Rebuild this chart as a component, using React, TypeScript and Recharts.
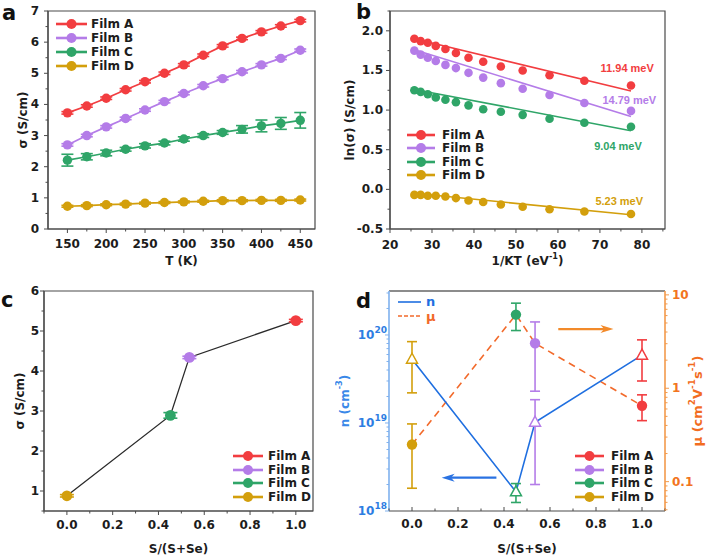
import React from "react";
import {
  ComposedChart,
  Line,
  Scatter,
  XAxis,
  YAxis,
  ErrorBar,
  ReferenceArea,
  ReferenceDot,
  ReferenceLine,
  Legend,
  Label,
} from "recharts";

const FONT = "'DejaVu Sans', 'Liberation Sans', sans-serif";
const INK = "#1c1c1c";
const AXIS = "#4a4a4a";

const films = ["Film A", "Film B", "Film C", "Film D"];
const filmColors = ["#f23d40", "#b47ce8", "#2fa568", "#d39f0c"];

// panel a: sigma vs T
const tempK = [150, 175, 200, 225, 250, 275, 300, 325, 350, 375, 400, 425, 450];
const sigmaA = [3.73, 3.95, 4.2, 4.47, 4.73, 5.0, 5.27, 5.58, 5.88, 6.12, 6.33, 6.52, 6.69];
const sigmaB = [2.7, 3.0, 3.28, 3.55, 3.82, 4.09, 4.35, 4.6, 4.83, 5.05, 5.27, 5.48, 5.74];
const sigmaC = [2.21, 2.32, 2.44, 2.56, 2.67, 2.76, 2.89, 3.0, 3.1, 3.2, 3.31, 3.39, 3.49];
const sigmaD = [0.73, 0.75, 0.78, 0.8, 0.83, 0.85, 0.87, 0.89, 0.91, 0.91, 0.92, 0.92, 0.93];
const sigmaErrA = [0.04, 0.04, 0.04, 0.04, 0.04, 0.04, 0.04, 0.04, 0.04, 0.04, 0.04, 0.04, 0.04];
const sigmaErrB = [0.04, 0.04, 0.04, 0.04, 0.04, 0.04, 0.04, 0.04, 0.04, 0.04, 0.04, 0.04, 0.04];
const sigmaErrC = [0.19, 0.1, 0.09, 0.06, 0.07, 0.06, 0.07, 0.06, 0.06, 0.12, 0.19, 0.19, 0.25];
const sigmaErrD = [0.03, 0.03, 0.03, 0.03, 0.03, 0.03, 0.03, 0.03, 0.03, 0.03, 0.03, 0.03, 0.03];
const tempTicks = [150, 175, 200, 225, 250, 275, 300, 325, 350, 375, 400, 425, 450];
const tempMajors = [150, 200, 250, 300, 350, 400, 450];
const sigmaTicks = [0, 0.5, 1, 1.5, 2, 2.5, 3, 3.5, 4, 4.5, 5, 5.5, 6, 6.5, 7];
const sigmaMajors = [0, 1, 2, 3, 4, 5, 6, 7];

// panel b: ln(sigma) vs 1/kT (same temperature order as panel a)
const invKT = [77.4, 66.3, 58.0, 51.6, 46.4, 42.2, 38.7, 35.7, 33.2, 30.9, 29.0, 27.3, 25.8];
const lnSigmaA = [1.31, 1.37, 1.44, 1.5, 1.55, 1.61, 1.66, 1.72, 1.77, 1.81, 1.85, 1.87, 1.9];
const lnSigmaB = [0.99, 1.09, 1.19, 1.27, 1.34, 1.41, 1.47, 1.53, 1.57, 1.62, 1.66, 1.7, 1.75];
const lnSigmaC = [0.79, 0.84, 0.89, 0.94, 0.98, 1.01, 1.06, 1.1, 1.13, 1.16, 1.2, 1.23, 1.25];
const lnSigmaD = [-0.31, -0.28, -0.25, -0.22, -0.19, -0.16, -0.14, -0.11, -0.09, -0.08, -0.08, -0.07, -0.07];
const fitX = [25.8, 77.4];
const fitA = [1.9, 1.24];
const fitB = [1.76, 0.92];
const fitC = [1.26, 0.74];
const fitD = [-0.05, -0.32];
const activation = ["11.94 meV", "14.79 meV", "9.04 meV", "5.23 meV"];
const activationX = [76.5, 77.0, 74.3, 74.6];
const activationY = [1.53, 1.13, 0.55, -0.15];
const invTicks = [20, 25, 30, 35, 40, 45, 50, 55, 60, 65, 70, 75, 80, 85];
const invMajors = [20, 30, 40, 50, 60, 70, 80];
const lnTicks = [-0.5, -0.25, 0, 0.25, 0.5, 0.75, 1, 1.25, 1.5, 1.75, 2, 2.25];
const lnMajors = [-0.5, 0, 0.5, 1, 1.5, 2];

// panel c: sigma at RT vs composition (A, B, C, D)
const ratio = [1.0, 0.535, 0.452, 0.0];
const sigmaRT = [5.26, 4.34, 2.89, 0.88];
const sigmaRTErr = [0.03, 0.03, 0.07, 0.03];
const ratioTicks = [-0.1, 0, 0.1, 0.2, 0.3, 0.4, 0.5, 0.6, 0.7, 0.8, 0.9, 1.0, 1.1];
const ratioMajors = [0, 0.2, 0.4, 0.6, 0.8, 1.0];
const sigmaRTTicks = [0.5, 1, 1.5, 2, 2.5, 3, 3.5, 4, 4.5, 5, 5.5, 6];
const sigmaRTMajors = [1, 2, 3, 4, 5, 6];

// panel d: carrier density and mobility (A, B, C, D)
const carrierN = [5.9e19, 1.02e19, 1.65e18, 5.3e19];
const carrierNErr = [2.9e19, 0.82e19, 0.4e18, 3.1e19];
const mobility = [0.65, 3.03, 6.15, 0.25];
const mobilityErr = [0.2, 2.1, 2.0, 0.165];
const nTicks = [
  1e18, 2e18, 3e18, 4e18, 5e18, 6e18, 7e18, 8e18, 9e18,
  1e19, 2e19, 3e19, 4e19, 5e19, 6e19, 7e19, 8e19, 9e19,
  1e20, 2e20, 3e20,
];
const nMajors = [1e18, 1e19, 1e20];
const muTicks = [
  0.05, 0.06, 0.07, 0.08, 0.09, 0.1, 0.2, 0.3, 0.4, 0.5, 0.6, 0.7, 0.8, 0.9,
  1, 2, 3, 4, 5, 6, 7, 8, 9, 10,
];
const muMajors = [0.1, 1, 10];
const muArrowX = [0.636, 0.876];
const muArrowY = 4.3;
const nArrowX = [0.367, 0.129];
const nArrowY = 2.39e18;

const N_BLUE = "#1f6fe0";
const MU_ORANGE = "#f26a2b";

type Seg = { t: string; sup?: boolean };

function renderSegs(parts: Seg[], size: number) {
  return parts.map((p, i) =>
    p.sup ? (
      <tspan key={i} dy={-size * 0.42} fontSize={size * 0.68}>
        {p.t}
      </tspan>
    ) : (
      <tspan key={i} dy={i > 0 && parts[i - 1].sup ? size * 0.42 : 0}>
        {p.t}
      </tspan>
    )
  );
}

function xTitle(parts: Seg[], dy: number, color = INK, size = 12) {
  return (props: any) => {
    const vb = props.viewBox;
    const cx = vb.x + vb.width / 2;
    const cy = vb.y + dy;
    return (
      <text x={cx} y={cy} textAnchor="middle" dominantBaseline="central" fontFamily={FONT} fontWeight={700} fontSize={size} fill={color}>
        {renderSegs(parts, size)}
      </text>
    );
  };
}

function yTitle(parts: Seg[], dx: number, color = INK, size = 12) {
  return (props: any) => {
    const vb = props.viewBox;
    const cx = vb.x + dx;
    const cy = vb.y + vb.height / 2;
    return (
      <text x={cx} y={cy} transform={`rotate(-90, ${cx}, ${cy})`} textAnchor="middle" dominantBaseline="central" fontFamily={FONT} fontWeight={700} fontSize={size} fill={color}>
        {renderSegs(parts, size)}
      </text>
    );
  };
}

type TickCfg = {
  side: "bottom" | "left" | "right";
  majors: number[];
  fmt: (v: number) => React.ReactNode;
  gap: number;
  inward?: boolean;
  color?: string;
  tickColor?: string;
};

const isIn = (list: number[], v: number) =>
  list.some((m) => Math.abs(m - v) <= 1e-9 * Math.max(1, Math.abs(m)));

function makeTick(c: TickCfg) {
  return (props: any) => {
    const { x, y, payload } = props;
    const v = payload.value;
    const major = isIn(c.majors, v);
    const len = (major ? 4 : 2.5) * (c.inward ? -1 : 1);
    const stroke = c.tickColor ?? AXIS;
    const txt = { fontFamily: FONT, fontWeight: 700, fontSize: 12, fill: c.color ?? INK };
    if (c.side === "bottom") {
      return (
        <g>
          <line x1={x} x2={x} y1={y} y2={y + len} stroke={stroke} />
          {major && (
            <text x={x} y={y + c.gap} textAnchor="middle" dominantBaseline="central" {...txt}>
              {c.fmt(v)}
            </text>
          )}
        </g>
      );
    }
    if (c.side === "left") {
      return (
        <g>
          <line x1={x} x2={x - len} y1={y} y2={y} stroke={stroke} />
          {major && (
            <text x={x - c.gap} y={y} textAnchor="end" dominantBaseline="central" {...txt}>
              {c.fmt(v)}
            </text>
          )}
        </g>
      );
    }
    return (
      <g>
        <line x1={x} x2={x + len} y1={y} y2={y} stroke={stroke} />
        {major && (
          <text x={x + c.gap} y={y} textAnchor="start" dominantBaseline="central" {...txt}>
            {c.fmt(v)}
          </text>
        )}
      </g>
    );
  };
}

const axisLine = { stroke: AXIS, strokeWidth: 1.2 };
const plain = (v: number) => String(v);
const oneDec = (v: number) => v.toFixed(1);

function FilmRows({ left, top, gap, lineLen, textGap }: { left: number; top: number; gap: number; lineLen: number; textGap: number }) {
  return (
    <div style={{ position: "absolute", left, top }}>
      {films.map((f, i) => (
        <div key={f} style={{ display: "flex", alignItems: "center", height: gap }}>
          <svg width={lineLen} height={12} style={{ display: "block" }}>
            <line x1={0} x2={lineLen} y1={6} y2={6} stroke={filmColors[i]} strokeWidth={2.6} />
            <circle cx={lineLen / 2} cy={6} r={5} fill={filmColors[i]} />
          </svg>
          <span style={{ marginLeft: textGap, fontFamily: FONT, fontWeight: 700, fontSize: 12, color: INK, lineHeight: "12px" }}>{f}</span>
        </div>
      ))}
    </div>
  );
}

function legendBox(w: number, h: number, content: React.ReactNode) {
  return (
    <Legend
      layout="vertical"
      align="center"
      verticalAlign="middle"
      wrapperStyle={{ left: 0, top: 0, width: w, height: h, pointerEvents: "none" }}
      content={() => <div style={{ position: "relative", width: w, height: h }}>{content}</div>}
    />
  );
}

function PanelA() {
  const series = [sigmaA, sigmaB, sigmaC, sigmaD];
  const errs = [sigmaErrA, sigmaErrB, sigmaErrC, sigmaErrD];
  return (
    <ComposedChart width={340} height={280} margin={{ top: 11, right: 25, bottom: 0, left: 0 }}>
      <XAxis type="number" dataKey="x" domain={[125, 469]} allowDataOverflow ticks={tempTicks} interval={0} tickLine={false} tickSize={0} tickMargin={0} height={51} axisLine={axisLine}
        tick={makeTick({ side: "bottom", majors: tempMajors, fmt: plain, gap: 15 })}>
        <Label content={xTitle([{ t: "T (K)" }], 32)} />
      </XAxis>
      <YAxis type="number" dataKey="y" domain={[0, 7]} allowDataOverflow ticks={sigmaTicks} interval={0} tickLine={false} tickSize={0} tickMargin={0} width={48} axisLine={axisLine}
        tick={makeTick({ side: "left", majors: sigmaMajors, fmt: plain, gap: 9 })}>
        <Label content={yTitle([{ t: "σ (S/cm)" }], 23)} />
      </YAxis>
      <ReferenceArea x1={125} x2={469} y1={0} y2={7} fill="none" stroke={AXIS} strokeWidth={1.2} />
      {series.map((s, i) => (
        <Line key={films[i]} data={tempK.map((t, j) => ({ x: t, y: s[j], err: errs[i][j] }))} dataKey="y" stroke={filmColors[i]} strokeWidth={1.7}
          dot={{ r: 4.7, fill: filmColors[i], stroke: "none" }} activeDot={false} isAnimationActive={false}>
          <ErrorBar dataKey="err" direction="y" width={6} stroke={filmColors[i]} strokeWidth={1.6} isAnimationActive={false} />
        </Line>
      ))}
      {legendBox(340, 280, <FilmRows left={56} top={17.3} gap={14} lineLen={31} textGap={4} />)}
    </ComposedChart>
  );
}

function PanelB() {
  const series = [lnSigmaA, lnSigmaB, lnSigmaC, lnSigmaD];
  const fits = [fitA, fitB, fitC, fitD];
  return (
    <ComposedChart width={374} height={280} margin={{ top: 11, right: 44, bottom: 0, left: 0 }}>
      <XAxis type="number" dataKey="x" domain={[20, 85.5]} allowDataOverflow ticks={invTicks} interval={0} tickLine={false} tickSize={0} tickMargin={0} height={51} axisLine={axisLine}
        tick={makeTick({ side: "bottom", majors: invMajors, fmt: plain, gap: 15.5 })}>
        <Label content={xTitle([{ t: "1/KT (eV" }, { t: "-1", sup: true }, { t: ")" }], 32)} />
      </XAxis>
      <YAxis type="number" dataKey="y" domain={[-0.5, 2.25]} allowDataOverflow ticks={lnTicks} interval={0} tickLine={false} tickSize={0} tickMargin={0} width={55} axisLine={axisLine}
        tick={makeTick({ side: "left", majors: lnMajors, fmt: oneDec, gap: 7 })}>
        <Label content={yTitle([{ t: "ln(σ) (S/cm)" }], 15)} />
      </YAxis>
      <ReferenceArea x1={20} x2={85.5} y1={-0.5} y2={2.25} fill="none" stroke={AXIS} strokeWidth={1.2} />
      {fits.map((f, i) => (
        <Line key={"fit" + i} data={fitX.map((x, j) => ({ x, y: f[j] }))} dataKey="y" stroke={filmColors[i]} strokeWidth={1.6} dot={false} activeDot={false} isAnimationActive={false} />
      ))}
      {series.map((s, i) => (
        <Scatter key={films[i]} data={invKT.map((x, j) => ({ x, y: s[j] }))} fill={filmColors[i]} isAnimationActive={false}
          shape={(p: any) => <circle cx={p.cx} cy={p.cy} r={4.3} fill={filmColors[i]} />} />
      ))}
      {activation.map((t, i) => (
        <ReferenceDot key={t} x={activationX[i]} y={activationY[i]} r={0} fill="none" stroke="none"
          label={{ value: t, position: "center", fill: filmColors[i], fontSize: 11, fontWeight: 700, fontFamily: "'Liberation Sans', Arial, sans-serif" }} />
      ))}
      {legendBox(374, 280, <FilmRows left={72} top={128.3} gap={13.4} lineLen={28} textGap={7} />)}
    </ComposedChart>
  );
}

function PanelC() {
  const order = ratio.map((_, i) => i).sort((a, b) => ratio[a] - ratio[b]);
  return (
    <ComposedChart width={340} height={280} margin={{ top: 11, right: 27, bottom: 0, left: 0 }}>
      <XAxis type="number" dataKey="x" domain={[-0.1, 1.075]} allowDataOverflow ticks={ratioTicks.slice(0, 12)} interval={0} tickLine={false} tickSize={0} tickMargin={0} height={49} axisLine={axisLine}
        tick={makeTick({ side: "bottom", majors: ratioMajors, fmt: oneDec, gap: 14 })}>
        <Label content={xTitle([{ t: "S/(S+Se)" }], 38)} />
      </XAxis>
      <YAxis type="number" dataKey="y" domain={[0.5, 6]} allowDataOverflow ticks={sigmaRTTicks} interval={0} tickLine={false} tickSize={0} tickMargin={0} width={44} axisLine={axisLine}
        tick={makeTick({ side: "left", majors: sigmaRTMajors, fmt: plain, gap: 5 })}>
        <Label content={yTitle([{ t: "σ (S/cm)" }], 20)} />
      </YAxis>
      <ReferenceArea x1={-0.1} x2={1.075} y1={0.5} y2={6} fill="none" stroke={AXIS} strokeWidth={1.2} />
      <Line data={order.map((i) => ({ x: ratio[i], y: sigmaRT[i] }))} dataKey="y" stroke="#2a2a2a" strokeWidth={1.3} dot={false} activeDot={false} isAnimationActive={false} />
      {films.map((f, i) => (
        <Scatter key={f} data={[{ x: ratio[i], y: sigmaRT[i], err: sigmaRTErr[i] }]} fill={filmColors[i]} isAnimationActive={false}
          shape={(p: any) => <circle cx={p.cx} cy={p.cy} r={5.4} fill={filmColors[i]} />}>
          <ErrorBar dataKey="err" direction="y" width={7} stroke={filmColors[i]} strokeWidth={1.6} isAnimationActive={false} />
        </Scatter>
      ))}
      {legendBox(340, 280, <FilmRows left={233} top={168.7} gap={13.9} lineLen={30} textGap={5} />)}
    </ComposedChart>
  );
}

function arrowShape(color: string) {
  return (p: any) => {
    const { x1, y1, x2, y2 } = p;
    const ang = Math.atan2(y2 - y1, x2 - x1);
    const c = Math.cos(ang);
    const s = Math.sin(ang);
    const L = 13;
    const W = 4;
    const bx = x2 - L * c;
    const by = y2 - L * s;
    const nx = x2 - 0.72 * L * c;
    const ny = y2 - 0.72 * L * s;
    return (
      <g>
        <line x1={x1} y1={y1} x2={nx} y2={ny} stroke={color} strokeWidth={2.2} />
        <polygon points={`${x2},${y2} ${bx - s * W},${by + c * W} ${nx},${ny} ${bx + s * W},${by - c * W}`} fill={color} />
      </g>
    );
  };
}

function PanelD() {
  const order = ratio.map((_, i) => i).sort((a, b) => ratio[a] - ratio[b]);
  const logFmt = (v: number) => (
    <>
      10<tspan dy={-5} fontSize={9}>{Math.round(Math.log10(v))}</tspan>
    </>
  );
  return (
    <ComposedChart width={374} height={280} margin={{ top: 11, right: 0, bottom: 0, left: 0 }}>
      <XAxis type="number" dataKey="x" domain={[-0.1, 1.1]} allowDataOverflow ticks={ratioTicks} interval={0} tickLine={false} tickSize={0} tickMargin={0} height={49} axisLine={axisLine}
        tick={makeTick({ side: "bottom", majors: ratioMajors, fmt: oneDec, gap: 13, inward: true })}>
        <Label content={xTitle([{ t: "S/(S+Se)" }], 38)} />
      </XAxis>
      <YAxis yAxisId="n" type="number" dataKey="n" scale="log" domain={[1e18, 3.16e20]} allowDataOverflow ticks={nTicks} interval={0} tickLine={false} tickSize={0} tickMargin={0} width={54}
        axisLine={{ stroke: "#7fb1ee", strokeWidth: 1.6 }}
        tick={makeTick({ side: "left", majors: nMajors, fmt: logFmt, gap: 2, color: "#2d7de2", tickColor: "#7fb1ee" })}>
        <Label content={yTitle([{ t: "n (cm" }, { t: "-3", sup: true }, { t: ")" }], 9.5, "#3a88e8")} />
      </YAxis>
      <YAxis yAxisId="mu" orientation="right" type="number" dataKey="mu" scale="log" domain={[0.0485, 11]} allowDataOverflow ticks={muTicks} interval={0} tickLine={false} tickSize={0} tickMargin={0} width={44}
        axisLine={{ stroke: "#f39a4c", strokeWidth: 1.6 }}
        tick={makeTick({ side: "right", majors: muMajors, fmt: plain, gap: 7, color: "#f27420", tickColor: "#f39a4c" })}>
        <Label content={yTitle([{ t: "μ (cm" }, { t: "2", sup: true }, { t: "V" }, { t: "-1", sup: true }, { t: "s" }, { t: "-1", sup: true }, { t: ")" }], 32, "#f26d1f", 13)} />
      </YAxis>
      <ReferenceLine yAxisId="n" y={3.16e20} stroke="#666" strokeWidth={1.4} />
      <Line yAxisId="mu" data={order.map((i) => ({ x: ratio[i], mu: mobility[i] }))} dataKey="mu" stroke={MU_ORANGE} strokeWidth={1.6} strokeDasharray="7 5" dot={false} activeDot={false} isAnimationActive={false} />
      <Line yAxisId="n" data={order.map((i) => ({ x: ratio[i], n: carrierN[i] }))} dataKey="n" stroke={N_BLUE} strokeWidth={1.6} dot={false} activeDot={false} isAnimationActive={false} />
      {films.map((f, i) => (
        <Scatter key={"n" + f} yAxisId="n" data={[{ x: ratio[i], n: carrierN[i], err: carrierNErr[i] }]} isAnimationActive={false}
          shape={(p: any) => (
            <polygon points={`${p.cx},${p.cy - 6} ${p.cx - 5.5},${p.cy + 4} ${p.cx + 5.5},${p.cy + 4}`} fill="#fff" stroke={filmColors[i]} strokeWidth={1.5} />
          )}>
          <ErrorBar dataKey="err" direction="y" width={5} stroke={filmColors[i]} strokeWidth={1.6} isAnimationActive={false} />
        </Scatter>
      ))}
      {films.map((f, i) => (
        <Scatter key={"mu" + f} yAxisId="mu" data={[{ x: ratio[i], mu: mobility[i], err: mobilityErr[i] }]} isAnimationActive={false}
          shape={(p: any) => <circle cx={p.cx} cy={p.cy} r={5.2} fill={filmColors[i]} />}>
          <ErrorBar dataKey="err" direction="y" width={5} stroke={filmColors[i]} strokeWidth={1.6} isAnimationActive={false} />
        </Scatter>
      ))}
      <ReferenceLine yAxisId="mu" segment={[{ x: muArrowX[0], y: muArrowY }, { x: muArrowX[1], y: muArrowY }]} shape={arrowShape("#f28a2a")} />
      <ReferenceLine yAxisId="n" segment={[{ x: nArrowX[0], y: nArrowY }, { x: nArrowX[1], y: nArrowY }]} shape={arrowShape("#2a72e2")} />
      {legendBox(
        374,
        280,
        <>
          <div style={{ position: "absolute", left: 63, top: 14.7 }}>
            {[
              { name: "n", color: N_BLUE, dash: undefined },
              { name: "μ", color: MU_ORANGE, dash: "4 2" },
            ].map((r) => (
              <div key={r.name} style={{ display: "flex", alignItems: "center", height: 14.3 }}>
                <svg width={23} height={10} style={{ display: "block" }}>
                  <line x1={0} x2={23} y1={5} y2={5} stroke={r.color} strokeWidth={1.6} strokeDasharray={r.dash} />
                </svg>
                <span style={{ marginLeft: 5, fontFamily: FONT, fontWeight: 700, fontSize: 13, color: r.color, lineHeight: "13px" }}>{r.name}</span>
              </div>
            ))}
          </div>
          <FilmRows left={240} top={168.7} gap={13.9} lineLen={29} textGap={7} />
        </>
      )}
    </ComposedChart>
  );
}

export default function App() {
  return (
    <div style={{ position: "absolute", left: 0, top: 0, width: 709, height: 560, background: "#fff", overflow: "hidden" }}>
      <div style={{ position: "absolute", left: 0, top: 0 }}>
        <PanelA />
      </div>
      <div style={{ position: "absolute", left: 335, top: 0 }}>
        <PanelB />
      </div>
      <div style={{ position: "absolute", left: 0, top: 280 }}>
        <PanelC />
      </div>
      <div style={{ position: "absolute", left: 335, top: 280 }}>
        <PanelD />
      </div>
      <svg width={709} height={560} style={{ position: "absolute", left: 0, top: 0, pointerEvents: "none" }}>
        {["a", "b", "c", "d"].map((t, i) => (
          <text key={t} x={[2, 356, 1, 356][i]} y={[20, 18.5, 306.5, 308][i]} fontFamily={FONT} fontWeight={700} fontSize={21} fill="#111">
            {t}
          </text>
        ))}
      </svg>
    </div>
  );
}
